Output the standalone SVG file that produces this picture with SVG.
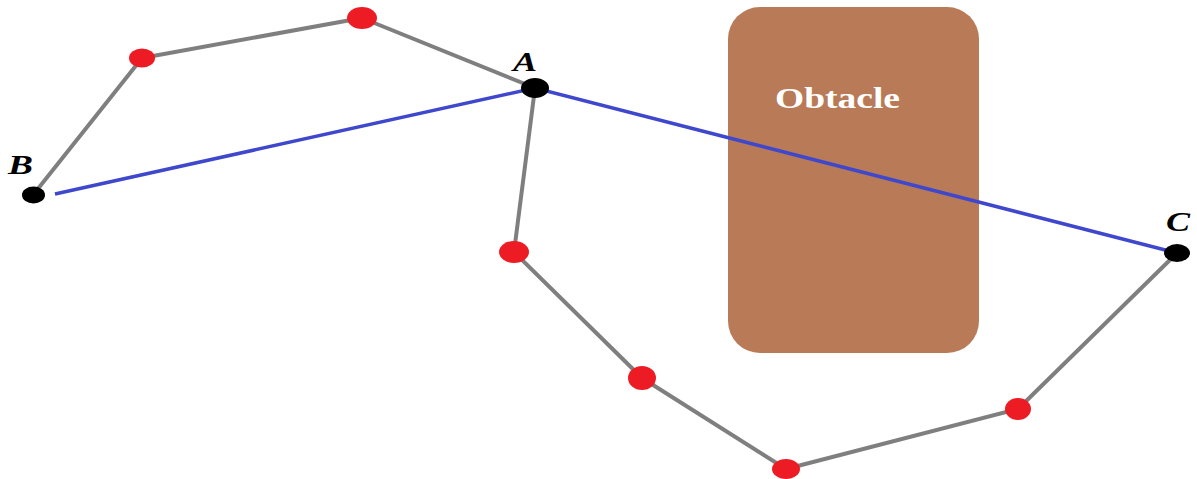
<svg xmlns="http://www.w3.org/2000/svg" width="1197" height="479" viewBox="0 0 1197 479">
<style>
.gray{fill:none;stroke:#7F7F7F;stroke-width:4;stroke-linejoin:round}
.blue{fill:none;stroke:#3F48CC;stroke-width:3.5}
.red{fill:#ED1C24}
.blk{fill:#000}
.lbl{font-family:"Liberation Serif",serif;font-weight:bold;font-style:italic;font-size:27px;fill:#000}
.obt{font-family:"Liberation Serif",serif;font-weight:bold;font-size:30px;fill:#FFFFFF}
</style>
<rect width="1197" height="479" fill="#FFFFFF"/>
<g id="obstacle">
<rect x="728" y="7" width="251" height="346" rx="32" ry="32" fill="#B97A57"/>
<text class="obt" x="775" y="108" textLength="125" lengthAdjust="spacingAndGlyphs">Obtacle</text>
</g>
<g id="connectors">
<polyline class="gray" points="33,195 142,58 362,18 535,88 514,252 642,378 786,469 1018,409 1177,253"/>
<polyline class="blue" points="55,194 535,88 1177,253"/>
</g>
<g id="node-B"><ellipse class="blk" cx="33.5" cy="195" rx="11.5" ry="8.5"/><text class="lbl" x="8" y="174" textLength="25" lengthAdjust="spacingAndGlyphs">B</text></g>
<g id="node-A"><ellipse class="blk" cx="535" cy="88" rx="14" ry="10"/><text class="lbl" x="513" y="71" textLength="24" lengthAdjust="spacingAndGlyphs">A</text></g>
<g id="node-C"><ellipse class="blk" cx="1177" cy="253" rx="13" ry="9"/><text class="lbl" x="1166" y="231" textLength="24" lengthAdjust="spacingAndGlyphs">C</text></g>
<g id="node-r1"><ellipse class="red" cx="142" cy="58" rx="13" ry="9.5"/></g>
<g id="node-r2"><ellipse class="red" cx="362" cy="18" rx="15" ry="11"/></g>
<g id="node-r3"><ellipse class="red" cx="514" cy="252" rx="15" ry="11"/></g>
<g id="node-r4"><ellipse class="red" cx="642" cy="378" rx="14" ry="12"/></g>
<g id="node-r5"><ellipse class="red" cx="786" cy="469" rx="14" ry="10"/></g>
<g id="node-r6"><ellipse class="red" cx="1018" cy="409" rx="13" ry="11"/></g>
</svg>
